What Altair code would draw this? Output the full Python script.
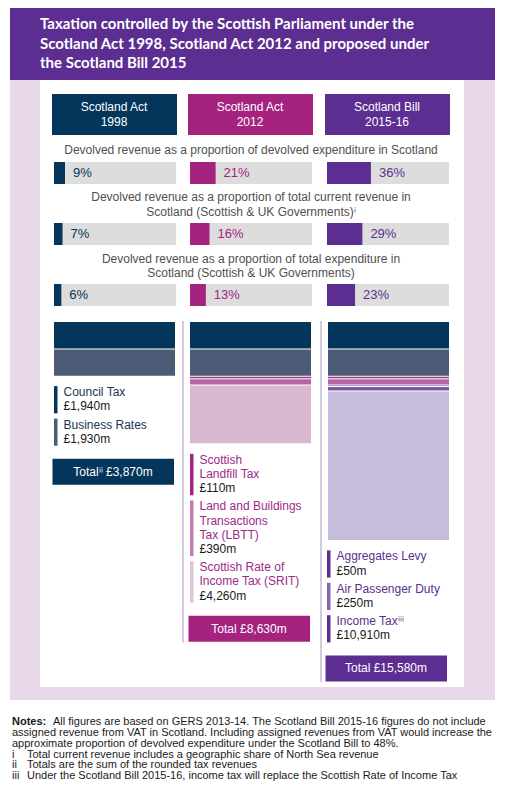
import altair as alt
import pandas as pd

# ---------------- data ----------------
periods = ["Scotland Act 1998", "Scotland Act 2012", "Scotland Bill 2015-16"]
period_header = [["Scotland Act", "1998"], ["Scotland Act", "2012"], ["Scotland Bill", "2015-16"]]

measure_titles = [
    ["Devolved revenue as a proportion of devolved expenditure in Scotland"],
    ["Devolved revenue as a proportion of total current revenue in",
     "Scotland (Scottish & UK Governments)\u2071"],
    ["Devolved revenue as a proportion of total expenditure in",
     "Scotland (Scottish & UK Governments)"],
]
pct_of_devolved_expenditure = [9, 21, 36]
pct_of_total_current_revenue = [7, 16, 29]
pct_of_total_expenditure = [6, 13, 23]

tax_names = ["Council Tax", "Business Rates", "Scottish Landfill Tax",
             "Land and Buildings Transactions Tax (LBTT)",
             "Scottish Rate of Income Tax (SRIT)", "Aggregates Levy",
             "Air Passenger Duty", "Income Tax"]
tax_revenue_m = [1940, 1930, 110, 390, 4260, 50, 250, 10910]

taxes_1998 = ["Council Tax", "Business Rates"]
taxes_2012 = ["Council Tax", "Business Rates", "Scottish Landfill Tax",
              "Land and Buildings Transactions Tax (LBTT)",
              "Scottish Rate of Income Tax (SRIT)"]
taxes_2015 = ["Council Tax", "Business Rates", "Scottish Landfill Tax",
              "Land and Buildings Transactions Tax (LBTT)", "Aggregates Levy",
              "Air Passenger Duty", "Income Tax"]
legend_taxes = [
    ["Council Tax", "Business Rates"],
    ["Scottish Landfill Tax", "Land and Buildings Transactions Tax (LBTT)",
     "Scottish Rate of Income Tax (SRIT)"],
    ["Aggregates Levy", "Air Passenger Duty", "Income Tax"],
]
legend_label_lines = {
    "Council Tax": ["Council Tax"],
    "Business Rates": ["Business Rates"],
    "Scottish Landfill Tax": ["Scottish", "Landfill Tax"],
    "Land and Buildings Transactions Tax (LBTT)": ["Land and Buildings", "Transactions", "Tax (LBTT)"],
    "Scottish Rate of Income Tax (SRIT)": ["Scottish Rate of", "Income Tax (SRIT)"],
    "Aggregates Levy": ["Aggregates Levy"],
    "Air Passenger Duty": ["Air Passenger Duty"],
    "Income Tax": ["Income Tax\u2071\u2071\u2071"],
}
total_words = ["Total\u2071\u2071", "Total", "Total"]

title_lines = ["Taxation controlled by the Scottish Parliament under the",
               "Scotland Act 1998, Scotland Act 2012 and proposed under",
               "the Scotland Bill 2015"]
notes_bold = "Notes:"
notes_lines = [
    "All figures are based on GERS 2013-14. The Scotland Bill 2015-16 figures do not include",
    "assigned revenue from VAT in Scotland. Including assigned revenues from VAT would increase the",
    "approximate proportion of devolved expenditure under the Scotland Bill to 48%.",
]
footnote_marks = ["i", "ii", "iii"]
footnotes = [
    "Total current revenue includes a geographic share of North Sea revenue",
    "Totals are the sum of the rounded tax revenues",
    "Under the Scotland Bill 2015-16, income tax will replace the Scottish Rate of Income Tax",
]

# ---------------- styles / layout ----------------
BODY = "Liberation Sans"
TITLE_FONT = "Lato"
NAVY = "#04355a"
SLATE = "#4e5b77"
MAGENTA = "#a5227f"
PURPLE = "#5c2e91"
PINK_BG = "#e9d9e8"
GREY = "#dddddd"
DIVIDER = "#ab95c6"
period_colors = [NAVY, MAGENTA, PURPLE]
name_colors = ["#1c3454", "#9c2a87", "#5c2e91"]
stack_colors = [NAVY, SLATE, "#96397f", "#b666a6", "#dab7d1", "#5c2e91", "#7b5ba6", "#c6bcdc"]
legend_colors = [NAVY, SLATE, MAGENTA, "#c27bb3", "#dfc3d8", "#5c2e91", "#8466ab", "#5c2e91"]

W, H = 502, 789
XS = alt.Scale(domain=[8, 8 + W], range=[0, W], nice=False, zero=False)
YS = alt.Scale(domain=[8, 8 + H], range=[0, H], nice=False, zero=False)

COL_LEFT = [54, 190, 327]
BAR_W = 122
ROW_TOP = [162, 223, 284]
BAR_H = 22
STACK_LEFT = [54, 190, 328]
STACK_W = 121
STACK_TOP = 322
K = 0.0136
GAP = 1.0
PITCH = 14.2
STEP = 18.2


def X(f="x"):
    return alt.X(f"{f}:Q", scale=XS, axis=None)


def Y(f="y"):
    return alt.Y(f"{f}:Q", scale=YS, axis=None)


def rects(rows):
    df = pd.DataFrame(rows, columns=["x", "x2", "y", "y2", "c"])
    return alt.Chart(df).mark_rect().encode(
        x=X(), x2="x2:Q", y=Y(), y2="y2:Q", color=alt.Color("c:N", scale=None))


def texts(rows, size=12, color="#222222", weight="normal", align="left", font=BODY):
    df = pd.DataFrame(rows, columns=["x", "y", "t"])
    return alt.Chart(df).mark_text(
        align=align, baseline="middle", fontSize=size, color=color,
        fontWeight=weight, font=font).encode(x=X(), y=Y(), text="t:N")


layers = []

# background panels
layers.append(rects([
    [10, 495, 7, 700, PINK_BG],
    [40, 464, 80, 687, "#ffffff"],
    [10, 495, 7, 80, PURPLE],
]))

# title
layers.append(texts([[40, 24 + 19.5 * i, t] for i, t in enumerate(title_lines)],
                    size=15, color="#ffffff", weight="bold", font=TITLE_FONT))

# period header boxes
layers.append(rects([[COL_LEFT[c] - 2, COL_LEFT[c] + BAR_W + 1, 94, 135, period_colors[c]]
                     for c in range(3)]))
hdr = []
for c in range(3):
    cx = COL_LEFT[c] + BAR_W / 2 - 1
    hdr.append([cx, 107, period_header[c][0]])
    hdr.append([cx, 122, period_header[c][1]])
layers.append(texts(hdr, size=12, color="#ffffff", align="center"))

# measure titles
mt = []
title_y = [[150], [197, 212], [259, 273]]
for m, lines in enumerate(measure_titles):
    for j, line in enumerate(lines):
        mt.append([251, title_y[m][j], line])
layers.append(texts(mt, size=12, color="#505050", align="center"))

# percentage bars
pct_rows = []
for m, series in enumerate([pct_of_devolved_expenditure, pct_of_total_current_revenue,
                            pct_of_total_expenditure]):
    for c, v in enumerate(series):
        pct_rows.append({"period": periods[c], "pct": v, "bx": COL_LEFT[c], "by": ROW_TOP[m],
                         "col": period_colors[c]})
pct_df = pd.DataFrame(pct_rows)
pcolor = alt.Color("col:N", scale=None)

base_pct = alt.Chart(pct_df).transform_calculate(
    bx2=f"datum.bx + {BAR_W}",
    fx2=f"datum.bx + datum.pct / 100 * {BAR_W}",
    by2=f"datum.by + {BAR_H}",
    ly=f"datum.by + {BAR_H / 2}",
    lx=f"datum.bx + datum.pct / 100 * {BAR_W} + 8",
    label="datum.pct + '%'",
)
layers.append(base_pct.mark_rect(color=GREY).encode(x=X("bx"), x2="bx2:Q", y=Y("by"), y2="by2:Q"))
layers.append(base_pct.mark_rect().encode(x=X("bx"), x2="fx2:Q", y=Y("by"), y2="by2:Q", color=pcolor))
layers.append(base_pct.mark_text(align="left", baseline="middle", fontSize=13, font=BODY).encode(
    x=X("lx"), y=Y("ly"), text="label:N", color=pcolor))

# stacked revenue bars
stack_rows = []
for c, taxes in enumerate([taxes_1998, taxes_2012, taxes_2015]):
    for o, t in enumerate(taxes):
        i = tax_names.index(t)
        stack_rows.append({"period": periods[c], "o": o, "tax": t,
                           "value": tax_revenue_m[i], "sx": STACK_LEFT[c],
                           "col": stack_colors[i]})
stack_df = pd.DataFrame(stack_rows)
layers.append(alt.Chart(stack_df).transform_window(
    cum="sum(value)", idx="row_number()", groupby=["period"], sort=[alt.SortField("o")]
).transform_calculate(
    y0=f"{STACK_TOP} + {K} * (datum.cum - datum.value) + (datum.idx - 1) * {GAP}",
    y1=f"{STACK_TOP} + {K} * datum.cum + (datum.idx - 1) * {GAP}",
    sx2=f"datum.sx + {STACK_W}",
).mark_rect().encode(
    x=X("sx"), x2="sx2:Q", y=Y("y0"), y2="y1:Q",
    color=alt.Color("col:N", scale=None)))

# legends, totals, dividers (positions follow the stack heights)
leg_bars, val_txt, tot_txt, tot_box = [], [], [], []
name_rows = [[], [], []]
box_bottom = []
for c, taxes in enumerate([taxes_1998, taxes_2012, taxes_2015]):
    vals = [tax_revenue_m[tax_names.index(t)] for t in taxes]
    bottom = STACK_TOP + K * sum(vals) + (len(vals) - 1) * GAP
    y = bottom + 16.5
    lx = COL_LEFT[c]
    for t in legend_taxes[c]:
        lines = legend_label_lines[t]
        first = y
        for line in lines:
            name_rows[c].append([lx + 9.5, y, line])
            y += PITCH
        val_txt.append([lx + 9.5, y, f"\u00a3{tax_revenue_m[tax_names.index(t)]:,}m"])
        leg_bars.append([lx, lx + 3.5, first - 6, y + 7, legend_colors[tax_names.index(t)]])
        y += STEP
    y = y - STEP + 20
    tot_box.append([lx - 1.5, lx + 120, y, y + 26, period_colors[c]])
    tot_txt.append([lx + 59, y + 13, f"{total_words[c]} \u00a3{sum(vals):,}m"])
    box_bottom.append(y + 27)

layers.append(rects(leg_bars))
for c in range(3):
    layers.append(texts(name_rows[c], size=12, color=name_colors[c]))
layers.append(texts(val_txt, size=12, color="#1a1a1a"))
layers.append(rects(tot_box))
layers.append(texts(tot_txt, size=12, color="#ffffff", align="center"))

div_df = pd.DataFrame({"x": [183, 321], "y": [321, 321], "y2": [box_bottom[1], box_bottom[2]]})
layers.append(alt.Chart(div_df).mark_rule(color=DIVIDER, strokeWidth=1).encode(
    x=X(), y=Y(), y2="y2:Q"))

# notes
layers.append(texts([[12, 722, notes_bold]], size=11, color="#1a1a1a", weight="bold"))
layers.append(texts([[53, 722, notes_lines[0]], [12, 733, notes_lines[1]], [12, 743.5, notes_lines[2]]],
                    size=11, color="#1a1a1a"))
layers.append(texts([[12, 754.5 + 10.8 * i, m] for i, m in enumerate(footnote_marks)],
                    size=11, color="#1a1a1a"))
layers.append(texts([[27, 754.5 + 10.8 * i, f] for i, f in enumerate(footnotes)],
                    size=11, color="#1a1a1a"))

chart = alt.layer(*layers).properties(
    width=W, height=H, padding=0, autosize=alt.AutoSizeParams(type="none"),
    background="#ffffff",
).configure_view(strokeWidth=0)

chart.save("out.html", embed_options={"renderer": "svg", "actions": False})
